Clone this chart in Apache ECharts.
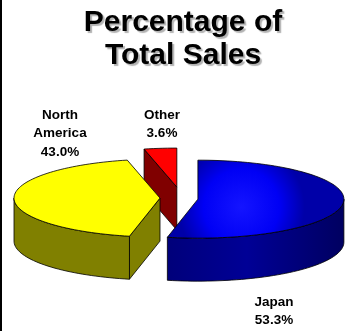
<!DOCTYPE html>
<html>
<head>
<meta charset="utf-8">
<script src="https://cdn.jsdelivr.net/npm/echarts@6/dist/echarts.min.js"></script>
<style>
html,body{margin:0;padding:0;background:#fff;}
#c{width:347px;height:331px;}
</style>
</head>
<body>
<div id="c"></div>
<script>
// ---- data ----
const categories = ['Japan', 'North America', 'Other'];
const values = [53.3, 43.0, 3.6];
const titleLines = ['Percentage of', 'Total Sales'];

// ---- styling / layout ----
const topColors = [
  {type:'radial', x:0.42, y:0.6, r:0.8, colorStops:[{offset:0,color:'#1414ff'},{offset:0.6,color:'#0000f5'},{offset:1,color:'#0000a8'}]},
  '#ffff00', '#ff0000'
];
const sideColors = [
  {type:'linear', x:0, y:0, x2:1, y2:0, colorStops:[{offset:0,color:'#00007a'},{offset:0.45,color:'#000096'},{offset:1,color:'#000060'}]},
  '#808000', '#800000'
];
const labelAnchors = [[274, 293], [60, 106], [162, 106]];
const CX = 179, CY = 198, RX = 146, RY = 39, DEPTH = 43, EXX = 19, EXY = 11;

const total = values.reduce((a, b) => a + b, 0);
const starts = [];
let acc = 0;
values.forEach(v => { starts.push(acc / total * 360); acc += v; });

function pt(cx, cy, a, dy) {
  const r = a * Math.PI / 180;
  return [cx + RX * Math.sin(r), cy - RY * Math.cos(r) + (dy || 0)];
}
function arc(cx, cy, a0, a1, dy) {
  const pts = [];
  const n = Math.max(2, Math.ceil((a1 - a0) / 2));
  for (let i = 0; i <= n; i++) pts.push(pt(cx, cy, a0 + (a1 - a0) * i / n, dy));
  return pts;
}

function renderItem(params, api) {
  const i = params.dataIndex;
  const v = api.value(0);
  const a0 = starts[i];
  const a1 = a0 + v / total * 360;
  const bis = (a0 + a1) / 2 * Math.PI / 180;
  const cx = CX + EXX * Math.sin(bis);
  const cy = CY - EXY * Math.cos(bis);
  const zBase = [30, 20, 0][i];
  const children = [];
  const stroke = {stroke:'#000', lineWidth:0.8};
  // radius walls
  if (Math.sin(a0 * Math.PI / 180) < -1e-6) {
    const p = pt(cx, cy, a0);
    children.push({type:'polygon', z2:zBase + 1, shape:{points:[[cx, cy], p, [p[0], p[1] + DEPTH], [cx, cy + DEPTH]]},
      style:Object.assign({fill:sideColors[i]}, stroke)});
  }
  if (Math.sin(a1 * Math.PI / 180) > 1e-6) {
    const p = pt(cx, cy, a1);
    children.push({type:'polygon', z2:zBase + 1, shape:{points:[[cx, cy], p, [p[0], p[1] + DEPTH], [cx, cy + DEPTH]]},
      style:Object.assign({fill:sideColors[i]}, stroke)});
  }
  // outer wall (front half 90..270)
  const s = Math.max(a0, 90), e = Math.min(a1, 270);
  if (e > s) {
    const topArc = arc(cx, cy, s, e, 0);
    const botArc = arc(cx, cy, s, e, DEPTH).reverse();
    children.push({type:'polygon', z2:zBase + 2, shape:{points:topArc.concat(botArc)},
      style:Object.assign({fill:sideColors[i]}, stroke)});
  }
  // top face
  children.push({type:'polygon', z2:zBase + 3, shape:{points:[[cx, cy]].concat(arc(cx, cy, a0, a1, 0))},
    style:Object.assign({fill:topColors[i]}, stroke)});
  // label
  const la = labelAnchors[i];
  children.push({type:'text', z2:50, x:la[0], y:la[1],
    style:{text:categories[i].replace(' ', '\n') + '\n' + v.toFixed(1) + '%', align:'center', verticalAlign:'top',
      font:'bold 13.5px "Liberation Sans", Arial, sans-serif', lineHeight:18.5, fill:'#000'}});
  return {type:'group', children:children};
}

const chart = echarts.init(document.getElementById('c'), null, {renderer:'canvas'});
chart.setOption({
  animation:false,
  backgroundColor:'#fff',
  graphic:[
    {type:'rect', left:0, top:0, shape:{width:2, height:331}, style:{fill:'#000'}},
    {type:'text', x:183, y:6, style:{text:titleLines.join('\n'), align:'center', verticalAlign:'top',
      font:'bold 30px "Liberation Sans", Arial, sans-serif', lineHeight:33, fill:'#000',
      textShadowColor:'rgba(0,0,0,0.3)', textShadowOffsetX:2, textShadowOffsetY:2, textShadowBlur:1}}
  ],
  series:[{
    type:'custom',
    coordinateSystem:'none',
    renderItem:renderItem,
    data:values.map(v => [v])
  }]
});
</script>
</body>
</html>
